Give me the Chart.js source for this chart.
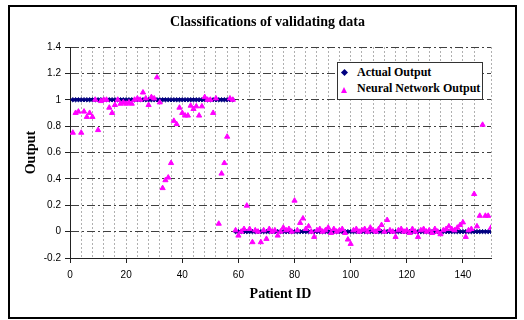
<!DOCTYPE html>
<html>
<head>
<meta charset="utf-8">
<script src="https://cdn.jsdelivr.net/npm/chart.js@4.4.1/dist/chart.umd.min.js"></script>
<style>
    html, body { margin: 0; padding: 0; background: #fff; }
    #wrap { position: relative; width: 524px; height: 320px; }
    #frame { position: absolute; left: 8px; top: 5px; width: 509px; height: 314px; box-sizing: border-box; border: 2px solid #000; pointer-events: none; }
    #legend { position: absolute; left: 337px; top: 62px; width: 146px; height: 38px; box-sizing: border-box; border: 1px solid #333; background: #fff; font: bold 12px 'Liberation Serif', 'Times New Roman', serif; color: #000; }
    .item { position: absolute; left: 0; height: 15px; line-height: 15px; white-space: nowrap; }
    .item .txt { position: absolute; left: 19px; top: 0; }
    .marker { position: absolute; }
</style>
</head>
<body>
<div id="wrap">
    <canvas id="chart" width="524" height="320"></canvas>
    <div id="legend"></div>
    <div id="frame"></div>
</div>
<script>
// Series names
const seriesNames = ['Actual Output', 'Neural Network Output'];

// Actual class of each patient (patient ID = position + 1)
const actualOutput = [
    1, 1, 1, 1, 1, 1, 1, 1, 1, 1,
    1, 1, 1, 1, 1, 1, 1, 1, 1, 1,
    1, 1, 1, 1, 1, 1, 1, 1, 1, 1,
    1, 1, 1, 1, 1, 1, 1, 1, 1, 1,
    1, 1, 1, 1, 1, 1, 1, 1, 1, 1,
    1, 1, 1, 1, 1, 1, 1, 1, 0, 0,
    0, 0, 0, 0, 0, 0, 0, 0, 0, 0,
    0, 0, 0, 0, 0, 0, 0, 0, 0, 0,
    0, 0, 0, 0, 0, 0, 0, 0, 0, 0,
    0, 0, 0, 0, 0, 0, 0, 0, 0, 0,
    0, 0, 0, 0, 0, 0, 0, 0, 0, 0,
    0, 0, 0, 0, 0, 0, 0, 0, 0, 0,
    0, 0, 0, 0, 0, 0, 0, 0, 0, 0,
    0, 0, 0, 0, 0, 0, 0, 0, 0, 0,
    0, 0, 0, 0, 0, 0, 0, 0, 0, 0
];

// Network output for each patient
const networkOutput = [
    0.75, 0.90, 0.91, 0.75, 0.91, 0.87, 0.90, 0.87, 1.00, 0.77,
    0.99, 1.00, 1.00, 0.94, 0.90, 0.96, 1.00, 0.97, 0.98, 0.97,
    0.98, 0.97, 1.00, 1.01, 1.00, 1.055, 1.01, 0.96, 1.02, 1.01,
    1.17, 0.98, 0.33, 0.39, 0.41, 0.52, 0.84, 0.815, 0.94, 0.90,
    0.88, 0.88, 0.955, 0.93, 0.95, 0.88, 0.95, 1.02, 1.00, 1.00,
    0.90, 1.01, 0.06, 0.44, 0.52, 0.72, 1.01, 1.00, 0.01, -0.03,
    0.00, 0.02, 0.197, 0.02, -0.08, 0.01, 0.00, -0.08, 0.01, -0.055,
    0.02, 0.00, 0.01, -0.03, 0.00, 0.03, 0.01, 0.02, 0.00, 0.235,
    0.01, 0.066, 0.10, 0.02, 0.04, 0.00, -0.04, 0.01, 0.02, 0.00,
    0.01, 0.03, -0.01, 0.02, 0.00, 0.01, 0.02, -0.01, -0.06, -0.093,
    0.01, 0.02, 0.00, 0.01, 0.02, 0.00, 0.03, 0.01, 0.00, 0.02,
    0.05, 0.00, 0.088, 0.01, 0.00, -0.04, 0.01, 0.02, 0.00, 0.01,
    -0.01, 0.02, 0.00, -0.04, 0.01, 0.02, 0.00, 0.01, -0.01, 0.02,
    0.00, -0.02, 0.01, 0.02, 0.04, 0.02, 0.01, 0.03, 0.05, 0.07,
    -0.04, 0.01, 0.02, 0.285, 0.04, 0.12, 0.81, 0.12, 0.12, 0.03
];

// Axis ticks
const xTickLabels = [0, 20, 40, 60, 80, 100, 120, 140];
const yTickValues = [-0.2, 0, 0.2, 0.4, 0.6, 0.8, 1, 1.2, 1.4];

const serif = "'Liberation Serif', 'Times New Roman', serif";
const sans = "'Liberation Sans', Arial, sans-serif";

const toPoints = values => values.map((v, i) => ({ x: i + 1, y: v }));

const chart = new Chart(document.getElementById('chart'), {
    type: 'scatter',
    data: {
        datasets: [{
            label: seriesNames[0],
            data: toPoints(actualOutput),
            pointStyle: 'rectRot',
            pointRadius: 2.2,
            borderWidth: 1,
            backgroundColor: '#000080',
            borderColor: '#000080',
            order: 2
        }, {
            label: seriesNames[1],
            data: toPoints(networkOutput),
            pointStyle: 'triangle',
            pointRadius: 3,
            borderWidth: 1,
            backgroundColor: '#ff00ff',
            borderColor: '#ff00ff',
            order: 1
        }]
    },
    options: {
        responsive: false,
        animation: false,
        layout: { padding: { left: 11, top: 0, right: 0, bottom: 12 } },
        plugins: {
            legend: { display: false },
            tooltip: { enabled: false },
            title: {
                display: true,
                text: 'Classifications of validating data',
                color: '#000',
                font: { family: serif, size: 14, weight: 'bold' },
                padding: { top: 14.4, bottom: 15.8 }
            }
        },
        scales: {
            x: {
                type: 'linear',
                min: 0,
                max: 150,
                afterFit: s => { s.height = 50; },
                ticks: {
                    stepSize: 4,
                    autoSkip: false,
                    maxRotation: 0,
                    padding: 6,
                    color: '#000',
                    font: { family: sans, size: 10 },
                    callback: v => xTickLabels.includes(v) ? v : ''
                },
                grid: {
                    color: '#b0b0b0',
                    lineWidth: 1,
                    tickLength: 5,
                    tickColor: ctx => ctx.tick && xTickLabels.includes(ctx.tick.value) ? '#222' : 'rgba(0,0,0,0)'
                },
                border: { display: true, color: '#222', width: 1, dash: [2, 2] },
                title: {
                    display: true,
                    text: 'Patient ID',
                    color: '#000',
                    font: { family: serif, size: 14, weight: 'bold' },
                    padding: { top: 0, bottom: 5 }
                }
            },
            y: {
                min: -0.2,
                max: 1.4,
                afterFit: s => { s.width = 59; },
                afterBuildTicks: s => { s.ticks = yTickValues.map(v => ({ value: v })); },
                ticks: {
                    padding: 4,
                    color: '#000',
                    font: { family: sans, size: 10 },
                    callback: v => String(Number(v.toFixed(1)))
                },
                grid: { color: '#404040', lineWidth: 1, tickLength: 5, tickColor: '#222' },
                border: { display: true, color: '#222', width: 1, dash: [8, 3, 2, 3] },
                title: {
                    display: true,
                    text: 'Output',
                    color: '#000',
                    font: { family: serif, size: 14, weight: 'bold' },
                    padding: { top: 12, bottom: 0 }
                }
            },
            // empty right-hand spacer so the plot ends where the original does
            yRight: {
                position: 'right',
                afterFit: s => { s.width = 33; },
                ticks: { display: false },
                grid: { display: false },
                border: { display: false }
            }
        }
    }
});

// HTML legend built from the chart's datasets
function buildLegend() {
    const box = document.getElementById('legend');
    const rows = [2.2, 17.8];
    chart.data.datasets.forEach((ds, i) => {
        const item = document.createElement('div');
        item.className = 'item';
        item.style.top = rows[i] + 'px';
        const marker = document.createElement('div');
        marker.className = 'marker';
        if (ds.pointStyle === 'rectRot') {
            Object.assign(marker.style, { left: '3.5px', top: '5px', width: '5px', height: '5px', background: ds.backgroundColor, transform: 'rotate(45deg)' });
        } else {
            Object.assign(marker.style, { left: '2.5px', top: '6px', width: '0', height: '0', borderLeft: '3.5px solid transparent', borderRight: '3.5px solid transparent', borderBottom: '6px solid ' + ds.backgroundColor });
        }
        const txt = document.createElement('span');
        txt.className = 'txt';
        txt.textContent = ds.label;
        item.appendChild(marker);
        item.appendChild(txt);
        box.appendChild(item);
    });
}
buildLegend();
</script>
</body>
</html>
